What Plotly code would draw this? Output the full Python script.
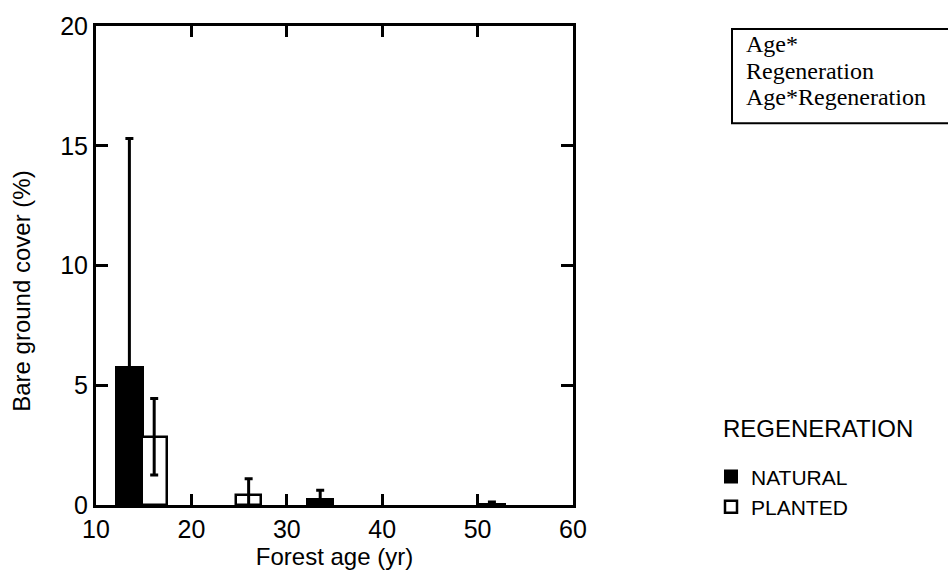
import plotly.graph_objects as go

# Data
natural_age = [13.5, 33.5, 51.5]
natural_cover = [5.75, 0.25, 0.05]
natural_err = [9.55, 0.37, 0.08]

planted_age = [16.1, 26.0]
planted_cover = [2.85, 0.4]
planted_err = [1.6, 0.7]

x_ticks = [10, 20, 30, 40, 50, 60]
y_ticks = [0, 5, 10, 15, 20]
stats_lines = ["Age*", "Regeneration", "Age*Regeneration"]
legend_title = "REGENERATION"
x_title = "Forest age (yr)"
y_title = "Bare ground cover (%)"

ARIAL = "Arial, Liberation Sans"
SERIF = "Times New Roman, Liberation Serif"

fig = go.Figure()
fig.add_trace(go.Bar(
    x=natural_age, y=natural_cover, width=2.75, name="NATURAL",
    marker=dict(color="black", line=dict(color="black", width=2)),
    error_y=dict(type="data", array=natural_err, visible=True,
                 color="black", thickness=3, width=4),
))
fig.add_trace(go.Bar(
    x=planted_age, y=planted_cover, width=2.6, name="PLANTED",
    marker=dict(color="white", line=dict(color="black", width=2.5)),
    error_y=dict(type="data", array=planted_err, visible=True,
                 color="black", thickness=3, width=4),
))

axis_common = dict(showline=True, linewidth=3, linecolor="black", mirror="ticks",
                   ticks="inside", tickwidth=3, tickcolor="black",
                   showgrid=False, zeroline=False,
                   tickfont=dict(family=ARIAL, size=25, color="black"))

fig.update_layout(
    width=948, height=584,
    margin=dict(l=96, r=375, t=22, b=79),
    plot_bgcolor="white", paper_bgcolor="white",
    barmode="overlay", bargap=0,
    xaxis=dict(range=[10, 60], tickvals=x_ticks, ticklen=11,
               title=dict(text=x_title, standoff=6,
                          font=dict(family=ARIAL, size=24, color="black")),
               **axis_common),
    yaxis=dict(range=[0, 20], tickvals=y_ticks, ticklen=12, **axis_common),
    legend=dict(
        font=dict(family=ARIAL, size=21, color="black"),
        x=(711 - 96) / 477, xanchor="left", y=(505 - 456) / 483, yanchor="top",
        bgcolor="rgba(0,0,0,0)", tracegroupgap=0,
    ),
    showlegend=True,
)

def py(px):
    return (505 - px) / 483

def px_x(px):
    return (px - 96) / 477

# Y axis title
fig.add_annotation(xref="paper", yref="paper", x=px_x(22), y=py(290),
                   xanchor="center", yanchor="middle", text=y_title, textangle=-90,
                   showarrow=False, font=dict(family=ARIAL, size=24, color="black"))

# Stats box
fig.add_shape(type="rect", xref="paper", yref="paper",
              x0=px_x(732), x1=px_x(990), y0=py(120), y1=py(25),
              line=dict(color="black", width=2), fillcolor="white", layer="below")
for line_text, ypx in zip(stats_lines, [40, 67, 94]):
    fig.add_annotation(xref="paper", yref="paper", x=px_x(744), y=py(ypx),
                       xanchor="left", yanchor="middle", text=line_text, showarrow=False,
                       font=dict(family=SERIF, size=24, color="black"))

# Legend heading
fig.add_annotation(xref="paper", yref="paper", x=px_x(721), y=py(428),
                   xanchor="left", yanchor="middle", text=legend_title, showarrow=False,
                   font=dict(family=ARIAL, size=24, color="black"))

fig.write_html("out.html")
